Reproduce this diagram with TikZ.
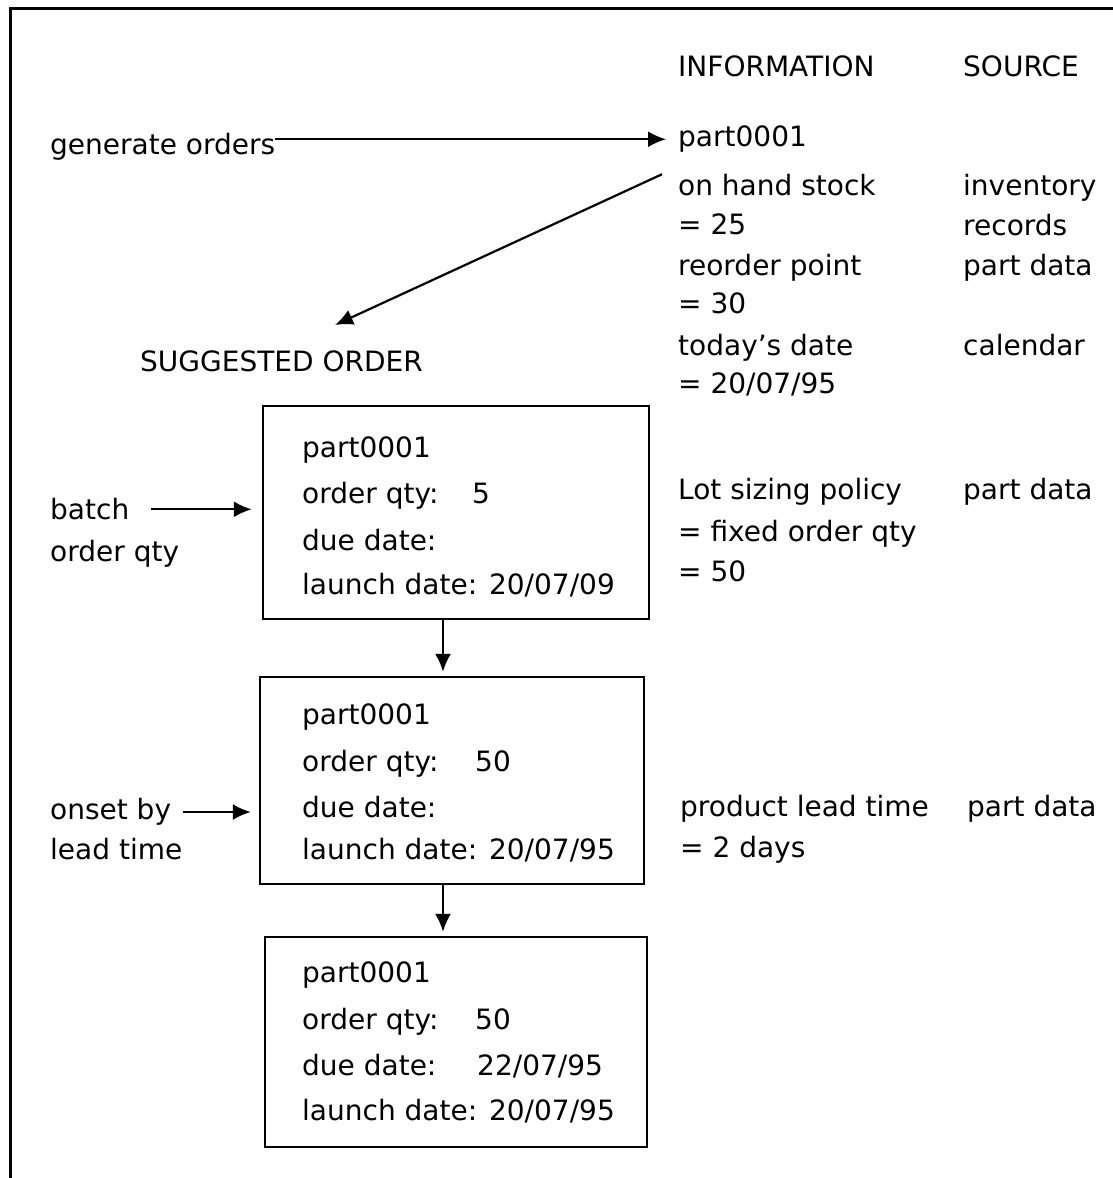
\documentclass[tikz,border=0pt]{standalone}
\usepackage{fontspec}
\setmainfont{DejaVu Sans}
\usetikzlibrary{arrows.meta}
\begin{document}
\begin{tikzpicture}[x=1pt,y=-1pt,
  txt/.style={inner sep=0pt,anchor=mid west,yshift=-7pt,font=\fontsize{28}{33}\selectfont},
  orderbox/.style={draw,line width=2.4pt,rectangle,inner sep=0pt},
  arr/.style={line width=2.2pt,-{Latex[length=18pt,width=16pt]}},
  frame/.style={line width=3pt}]
\useasboundingbox (0,0) rectangle (1113,1178);
% outer frame (left and top edges)
\draw[frame] (10,1180) -- (10,8) -- (1115,8);

% column headings
\node[txt] (hinfo) at (678,67) {INFORMATION};
\node[txt] (hsrc)  at (963,67) {SOURCE};

% order generation
\node[txt] (gen) at (50,145) {generate orders};
\node[txt] (p0)  at (678,137) {part0001};
\draw[arr,shorten <=0pt,shorten >=12pt] (gen.east |- p0.west) -- (p0.west);

% information and sources
\node[txt] (i1) at (678,186) {on hand stock};
\node[txt] (i2) at (678,225) {= 25};
\node[txt] (i3) at (678,266) {reorder point};
\node[txt] (i4) at (678,304) {= 30};
\node[txt] (i5) at (678,346) {today's date};
\node[txt] (i6) at (678,384) {= 20/07/95};
\node[txt] (s1) at (963,186) {inventory};
\node[txt] (s2) at (963,226) {records};
\node[txt] (s3) at (963,266) {part data};
\node[txt] (s5) at (963,346) {calendar};

\node[txt] (sug) at (140,362) {SUGGESTED ORDER};
\coordinate (sugtip) at (335,325);
\draw[arr] ([xshift=-16pt]p0.west |- i1.north) -- (sugtip);

% first suggested order
\node[orderbox,minimum width=386pt,minimum height=213pt] (b1) at (456,512.5) {};
\node[txt] at (302,448) {part0001};
\node[txt] at (302,494) {order qty:};
\node[txt] at (472,494) {5};
\node[txt] at (302,541) {due date:};
\node[txt] at (302,585) {launch date: 20/07/09};

\node[txt] (batch) at (50,510) {batch};
\node[txt] at (50,552) {order qty};
\draw[arr,shorten <=22pt,shorten >=10pt] (batch.east) -- (batch.east -| b1.west);

\node[txt] (l1) at (678,490) {Lot sizing policy};
\node[txt] at (678,532) {= fixed order qty};
\node[txt] at (678,572) {= 50};
\node[txt] at (963,490) {part data};

% second suggested order
\node[orderbox,minimum width=384pt,minimum height=207pt] (b2) at (452,780.5) {};
\node[txt] at (302,715) {part0001};
\node[txt] at (302,762) {order qty:};
\node[txt] at (475,762) {50};
\node[txt] at (302,808) {due date:};
\node[txt] at (302,850) {launch date: 20/07/95};
\draw[arr,shorten >=4pt] ([xshift=-13pt]b1.south) -- ([xshift=-13pt]b1.south |- b2.north);

\node[txt] (onset) at (50,810) {onset by};
\node[txt] at (50,850) {lead time};
\draw[arr,shorten <=12pt,shorten >=8pt] (onset.east) -- (onset.east -| b2.west);

\node[txt] at (680,807) {product lead time};
\node[txt] at (680,848) {= 2 days};
\node[txt] at (967,807) {part data};

% third suggested order
\node[orderbox,minimum width=382pt,minimum height=210pt] (b3) at (456,1042) {};
\node[txt] at (302,973) {part0001};
\node[txt] at (302,1020) {order qty:};
\node[txt] at (475,1020) {50};
\node[txt] at (302,1066) {due date:};
\node[txt] at (477,1066) {22/07/95};
\node[txt] at (302,1111) {launch date: 20/07/95};
\draw[arr,shorten >=4pt] ([xshift=-9pt]b2.south) -- ([xshift=-9pt]b2.south |- b3.north);
\end{tikzpicture}
\end{document}
